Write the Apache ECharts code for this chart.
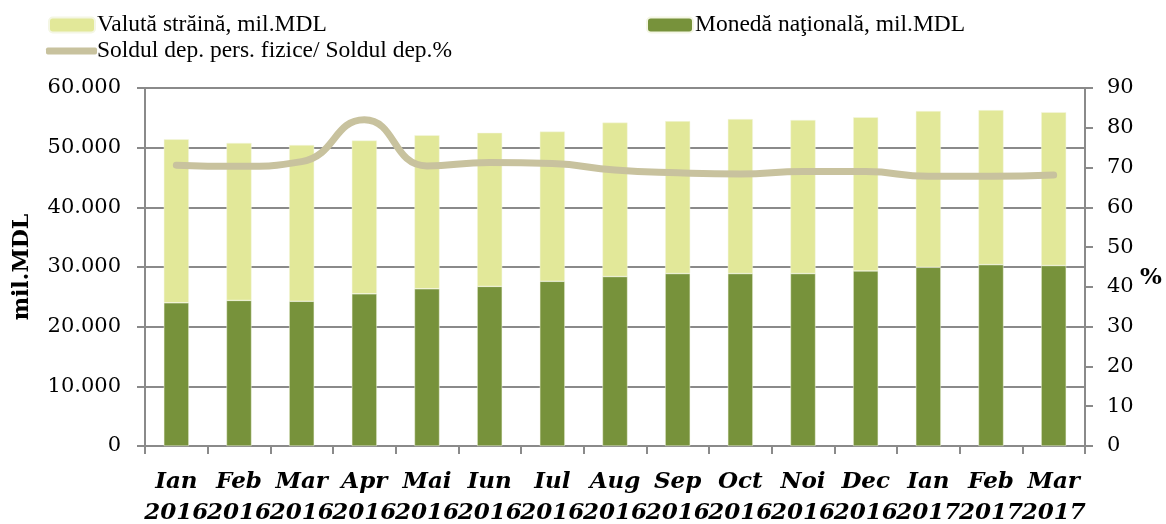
<!DOCTYPE html>
<html>
<head>
<meta charset="utf-8">
<script src="https://cdn.jsdelivr.net/npm/echarts@6/dist/echarts.min.js"></script>
<style>
html,body{margin:0;padding:0;background:#fff;}
#c{width:1166px;height:524px;}
</style>
</head>
<body>
<div id="c"></div>
<script>
const categories = ['Ian\n2016','Feb\n2016','Mar\n2016','Apr\n2016','Mai\n2016','Iun\n2016','Iul\n2016','Aug\n2016','Sep\n2016','Oct\n2016','Noi\n2016','Dec\n2016','Ian\n2017','Feb\n2017','Mar\n2017'];
const nationalCurrency = [24000, 24400, 24250, 25500, 26350, 26750, 27600, 28400, 28900, 28900, 28900, 29350, 29950, 30400, 30250];
const foreignCurrency = [27400, 26400, 26200, 25700, 25750, 25750, 25100, 25800, 25550, 25900, 25750, 25750, 26200, 25900, 25700];
const sharePercent = [70.6, 70.3, 71.5, 82.0, 70.4, 71.3, 71.0, 69.4, 68.7, 68.4, 69.0, 69.0, 67.8, 67.8, 68.1];
const leftTicks = [0, 10000, 20000, 30000, 40000, 50000, 60000];

const nameForeign = 'Valută străină, mil.MDL';
const nameNational = 'Monedă naţională, mil.MDL';
const nameShare = 'Soldul dep. pers. fizice/ Soldul dep.%';

const FONT = 'DejaVu Serif';
const LFONT = 'Liberation Serif';
const chart = echarts.init(document.getElementById('c'), null, {renderer:'canvas'});
const axisGray = '#8a8a8a';

chart.setOption({
  animation: false,
  backgroundColor: '#fff',
  legend: [
    {data:[nameForeign], left: 43, top: 8, itemWidth: 46, itemHeight: 15, itemGap: 0,
     textStyle:{fontFamily: LFONT, fontSize: 23.5, color:'#000', padding:[0,0,0,-3]}},
    {data:[nameNational], left: 641, top: 8, itemWidth: 46, itemHeight: 15,
     textStyle:{fontFamily: LFONT, fontSize: 23.5, color:'#000', padding:[0,0,0,-3]}},
    {data:[{name:nameShare, icon:'roundRect'}], left: 41, top: 34, itemWidth: 51, itemHeight: 7,
     textStyle:{fontFamily: LFONT, fontSize: 23.5, color:'#000', padding:[0,0,0,-5]}}
  ],
  grid: {left: 145, right: 81, top: 88, bottom: 78, outerBoundsMode: 'none', containLabel: false},
  xAxis: {
    type: 'category',
    data: categories,
    boundaryGap: true,
    axisLine: {lineStyle:{color: axisGray, width: 2}},
    axisTick: {show: true, alignWithLabel: false, length: 8, lineStyle:{color: axisGray, width: 2}},
    axisLabel: {interval: 0, margin: 21, fontFamily: FONT, fontWeight: 'bold', fontStyle: 'italic',
                fontSize: 23, lineHeight: 31, color: '#000'}
  },
  yAxis: [
    {
      type: 'value', min: 0, max: 60000, interval: 10000,
      name: 'mil.MDL', nameLocation: 'middle', nameRotate: 90, nameGap: 112,
      nameTextStyle: {fontFamily: FONT, fontWeight: 'bold', fontSize: 22, color: '#000'},
      axisLine: {show: true, lineStyle:{color: axisGray, width: 2}},
      axisTick: {show: true, length: 8, lineStyle:{color: axisGray, width: 2}},
      splitLine: {show: true, lineStyle:{color: axisGray, width: 2}},
      axisLabel: {margin: 24, fontFamily: FONT, fontSize: 21, color: '#000',
        formatter: v => leftTicks.includes(v) ? (v === 0 ? '0' : (v/1000).toFixed(0) + '.000') : ''}
    },
    {
      type: 'value', min: 0, max: 90, interval: 10,
      name: '%', nameLocation: 'middle', nameRotate: 0, nameGap: 55,
      nameTextStyle: {fontFamily: FONT, fontWeight: 'bold', fontSize: 23, color: '#000', verticalAlign: 'top'},
      axisLine: {show: true, lineStyle:{color: axisGray, width: 2}},
      axisTick: {show: true, length: 8, lineStyle:{color: axisGray, width: 2}},
      splitLine: {show: false},
      axisLabel: {margin: 22, fontFamily: FONT, fontSize: 21, color: '#000'}
    }
  ],
  series: [
    {name: nameNational, type: 'bar', stack: 'dep', data: nationalCurrency, barWidth: '40%',
     itemStyle: {color: '#77923B', borderColor: '#f4f6e4', borderWidth: 0.5}},
    {name: nameForeign, type: 'bar', stack: 'dep', data: foreignCurrency, barWidth: '40%',
     itemStyle: {color: '#E2E899', borderColor: '#f4f6e4', borderWidth: 0.5}},
    {name: nameShare, type: 'line', yAxisIndex: 1, data: sharePercent, smooth: 0.5,
     showSymbol: false, symbol: 'none', z: 5,
     lineStyle: {color: '#C8C29E', width: 7, cap: 'round', join: 'round'},
     itemStyle: {color: '#C8C29E'}}
  ]
});
</script>
</body>
</html>
